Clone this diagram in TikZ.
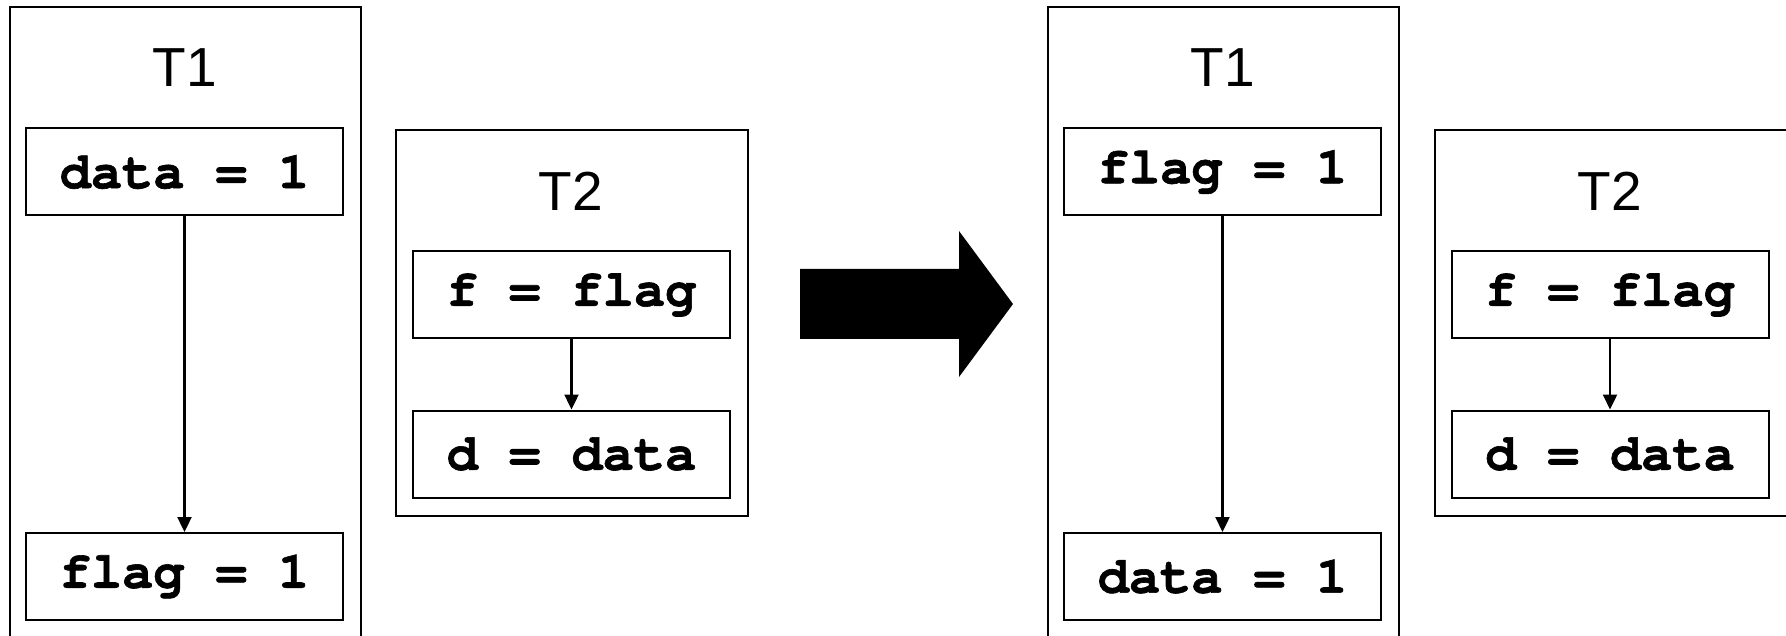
\documentclass[tikz,border=0pt]{standalone}
\usepackage{fontspec}
\setmainfont{Liberation Sans}
\newfontfamily\codefont[Ligatures={NoCommon},BoldFeatures={FakeBold=1.2}]{TeX Gyre Cursor}
\usetikzlibrary{arrows.meta}
\tikzset{
  thread/.style={draw, line width=2pt, minimum width=351pt, inner sep=0pt},
  stmt/.style={draw, line width=2pt, minimum width=317pt, minimum height=87pt,
    inner sep=0pt, font=\codefont\bfseries\fontsize{52}{52}\selectfont},
  title/.style={font=\fontsize{55}{55}\selectfont, inner sep=0pt},
  order/.style={line width=2.4pt, -{Triangle[length=15pt,width=14pt]}}
}
\begin{document}
\begin{tikzpicture}[x=1pt,y=-1pt]
\useasboundingbox (0,0) rectangle (1786,636);
\clip (0,0) rectangle (1786,636);
\fill[white] (0,0) rectangle (1786,636);

% ---- before reordering ----
\node[thread, minimum height=660pt, anchor=north west] (t1a) at (9,6) {};
\node[title] (t1alab) at (184.5,68) {T1};
\node[stmt] (a1) at (184.5,172) {data = 1};
\node[stmt] (a2) at (184.5,576.5) {flag = 1};
\draw[order] (a1) -- (a2);

\node[thread, minimum width=352pt, minimum height=386pt, anchor=north west] (t2a) at (395,129) {};
\node[title] (t2alab) at (571,191) {T2};
\node[stmt] (b1) at (571.5,295) {f = flag};
\node[stmt] (b2) at (571.5,454) {d = data};
\draw[order] (b1) -- (b2);

% ---- transformation arrow ----
\fill (800,269) -- (959,269) -- (959,231) -- (1013,304) -- (959,377) -- (959,339) -- (800,339) -- cycle;

% ---- after reordering ----
\node[thread, minimum height=660pt, anchor=north west] (t1b) at (1047,6) {};
\node[title] (t1blab) at (1222.5,68) {T1};
\node[stmt] (c1) at (1222.5,172) {flag = 1};
\node[stmt] (c2) at (1222.5,576.5) {data = 1};
\draw[order] (c1) -- (c2);

\node[thread, minimum width=352pt, minimum height=386pt, anchor=north west] (t2b) at (1433.5,129) {};
\node[title] (t2blab) at (1609.5,191) {T2};
\node[stmt] (d1) at (1610,295) {f = flag};
\node[stmt] (d2) at (1610,454) {d = data};
\draw[order] (d1) -- (d2);
\end{tikzpicture}
\end{document}
